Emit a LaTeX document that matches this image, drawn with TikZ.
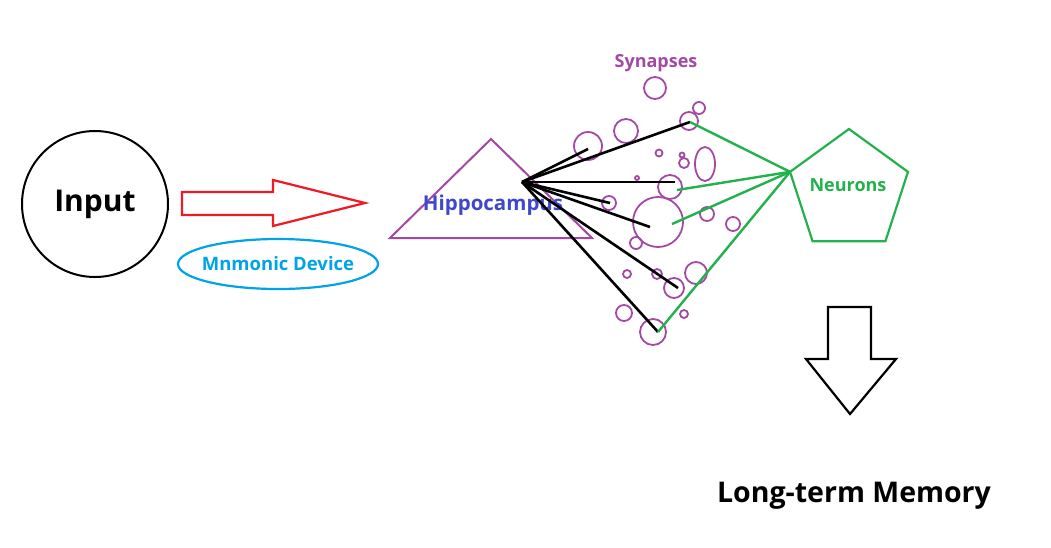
\documentclass[tikz,border=0pt]{standalone}
\usepackage{fontspec}
\setmainfont{Open Sans}
\usepackage{tikz}
\usetikzlibrary{shapes.geometric}

\definecolor{pred}{HTML}{ED1C24}
\definecolor{ppurple}{HTML}{A349A4}
\definecolor{pindigo}{HTML}{3F48CC}
\definecolor{pcyan}{HTML}{00A2E8}
\definecolor{pgreen}{HTML}{22B14C}

\begin{document}
\begin{tikzpicture}[
  x=1pt, y=-1pt,
  font=\bfseries,
  lbl/.style  ={inner sep=0pt, font=\bfseries\fontsize{18}{18}\selectfont},
  big/.style  ={inner sep=0pt, font=\bfseries\fontsize{#1}{#1}\selectfont},
  syn/.style  ={draw=ppurple, circle, line width=1.8pt, inner sep=0pt,
                minimum size=#1},
  fan/.style  ={line width=2.6pt, black},
  link/.style ={line width=2.4pt, pgreen},
  blockarr/.style={line width=2.2pt, line join=miter}
]
\useasboundingbox (0,0) rectangle (1051,547);

\node[draw, circle, line width=2pt, minimum size=146pt, big=30] (inp)
  at (95,204) {Input};
\draw[blockarr, pred] (182,192) -- (273,192) -- (273,180) -- (365,203)
  -- (273,226) -- (273,215) -- (182,215) -- cycle;
\node[draw=pcyan, ellipse, line width=2.2pt, minimum width=200pt,
  minimum height=50pt, big=18.5, inner xsep=-10pt, text=pcyan] (mnem)
  at (278,264) {Mnmonic Device};

% hippocampus
\draw[ppurple, line width=2pt] (390,238) -- (491,139) -- (592,238) -- cycle;
\node[big=20.5, text=pindigo] (hippo) at (493,205) {Hippocampus};
\coordinate (hub) at (522,182);

% synapses
\node[lbl, text=ppurple] (synlbl) at (656,63) {Synapses};
\foreach \x/\y/\d [count=\i] in {655/88/22, 699/108/12, 689/121/18,
    626/131/24, 588/146/28, 659/153/7, 682/155/5, 684/163/10, 637/178/4,
    670/187/24, 609/203/14, 707/214/14, 658/222/50, 733/224/14,
    636/243/12, 627/274/8, 657/274/10, 696/273/22, 674/288/20,
    624/313/16, 684/314/8, 653/332/26}
  \node[syn=\d pt] (s\i) at (\x,\y) {};
\node[draw=ppurple, ellipse, line width=1.8pt, inner sep=0pt,
  minimum width=20pt, minimum height=34pt] (sE) at (705,164) {};

\foreach \x/\y [count=\i] in {588/149, 690/122, 675/182, 610/203,
    650/227, 678/288, 658/332}
  \coordinate (e\i) at (\x,\y);
\foreach \i in {1,...,7}
  \draw[fan] (hub) -- (e\i);

% neurons
\node[draw=pgreen, regular polygon, regular polygon sides=5,
  minimum size=124pt, inner sep=0pt, outer sep=0pt, line width=2.2pt]
  (neur) at (849,191) {};
\node[lbl, text=pgreen] (neurlbl) at (848,185) {Neurons};
\coordinate (g2) at (677,190);
\coordinate (g3) at (672,224);
\foreach \p in {e2,g2,g3,e7}
  \draw[link] (\p) -- (neur.corner 2);

% to memory
\draw[blockarr, black] (828,307) -- (871,307) -- (871,359) -- (896,359)
  -- (850,414) -- (806,359) -- (828,359) -- cycle;
\node[big=28.5] (ltm) at (854,496) {Long-term Memory};
\end{tikzpicture}
\end{document}
